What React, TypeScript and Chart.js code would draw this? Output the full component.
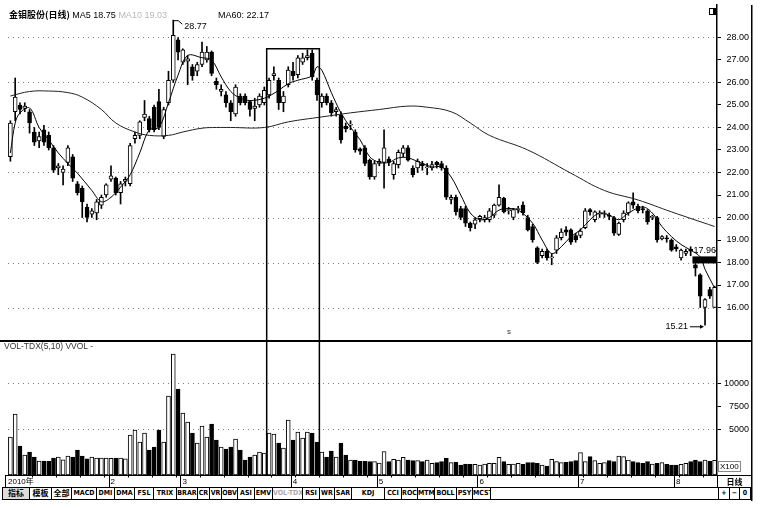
import React, { useEffect, useRef } from 'react';
import { Chart, registerables } from 'chart.js';

Chart.register(...registerables);

// ---------- data ----------
const OPEN = [
  22.7, 24.7, 25.0, 24.85, 24.7, 23.8, 23.4, 23.9, 23.65, 23.1,
  22.2, 22.0, 22.45, 22.7, 21.5, 21.3, 20.45, 20.15, 20.2, 20.55,
  21.0, 21.7, 21.75, 21.1, 21.6, 21.5, 23.5, 23.65, 24.45, 24.4,
  24.9, 25.15, 23.6, 25.1, 26.1, 27.9, 26.9, 26.95, 26.7, 26.5,
  26.8, 27.0, 27.35, 26.05, 25.6, 25.45, 25.1, 24.6, 25.4, 25.4,
  25.15, 24.85, 25.0, 25.1, 25.45, 26.3, 26.1, 25.1, 25.9, 26.5,
  26.35, 26.9, 27.1, 27.3, 26.1, 25.1, 25.4, 25.1, 24.7, 24.55,
  24.05, 24.1, 23.8, 23.05, 23.1, 22.55, 21.8, 22.4, 22.45, 22.6,
  21.9, 22.35, 22.85, 23.1, 22.2, 22.2, 22.4, 22.2, 22.2, 22.45,
  22.4, 22.2, 20.8, 20.9, 20.4, 20.4, 19.75, 19.7, 19.95, 19.9,
  19.9, 20.1, 20.55, 20.85, 20.3, 20.0, 20.35, 20.55, 20.0, 19.6,
  18.65, 18.3, 18.5, 18.2, 18.55, 19.1, 19.45, 19.45, 19.2, 19.2,
  19.55, 20.35, 19.9, 20.15, 20.15, 20.1, 20.0, 19.25, 19.9, 20.2,
  20.7, 20.5, 20.4, 20.3, 20.0, 20.0, 19.05, 19.1, 19.0, 18.7,
  18.2, 18.4, 18.6, 17.9, 17.45, 16.0, 16.8, 16.0,
];
const HIGH = [
  24.3, 26.2, 25.1, 25.1, 24.8, 24.0, 23.8, 24.1, 23.8, 23.2,
  22.4, 22.3, 23.2, 22.8, 21.6, 21.4, 20.6, 20.4, 20.8, 21.0,
  21.5, 22.3, 21.8, 21.6, 21.8, 23.3, 23.8, 24.3, 25.2, 24.5,
  25.0, 25.7, 24.9, 26.5, 28.77, 28.0, 27.5, 27.2, 26.8, 26.9,
  27.8, 27.6, 27.4, 26.2, 25.9, 25.6, 25.2, 25.9, 25.5, 25.5,
  25.2, 25.3, 25.5, 25.8, 26.2, 26.7, 26.2, 25.6, 26.7, 26.9,
  27.2, 27.3, 27.45, 27.45, 26.2, 25.5, 25.5, 25.2, 24.9, 24.7,
  24.2, 24.3, 23.9, 23.1, 23.2, 22.6, 22.5, 22.6, 23.9, 22.7,
  22.5, 23.0, 23.2, 23.2, 22.3, 22.6, 22.5, 22.4, 22.5, 22.5,
  22.5, 22.3, 21.0, 21.0, 20.5, 20.5, 19.8, 20.0, 20.1, 20.1,
  20.4, 20.6, 21.45, 20.9, 20.45, 20.4, 20.5, 20.7, 20.1, 19.7,
  18.7, 18.6, 18.6, 18.4, 19.2, 19.5, 19.6, 19.5, 19.3, 19.5,
  20.4, 20.4, 20.3, 20.3, 20.3, 20.2, 20.05, 19.8, 20.3, 20.7,
  21.1, 20.6, 20.5, 20.35, 20.1, 20.05, 19.2, 19.2, 19.05, 18.8,
  18.6, 18.6, 18.7, 17.96, 17.5, 16.4, 16.9, 16.95,
];
const LOW = [
  22.5, 24.3, 24.6, 24.7, 23.75, 23.2, 23.1, 23.2, 23.0, 22.0,
  21.9, 21.45, 22.3, 21.6, 21.0, 20.0, 19.8, 20.0, 19.9, 20.4,
  20.9, 21.6, 21.0, 20.6, 21.4, 21.4, 23.3, 23.5, 24.3, 23.8,
  23.8, 23.9, 23.5, 25.0, 26.0, 27.0, 26.8, 25.9, 26.1, 26.3,
  26.7, 26.9, 26.3, 25.7, 25.4, 24.9, 24.3, 24.5, 25.0, 25.0,
  24.5, 24.3, 24.9, 25.0, 25.3, 26.1, 24.8, 24.7, 25.8, 26.1,
  26.2, 26.8, 27.0, 26.1, 25.2, 24.9, 25.0, 24.5, 24.5, 23.3,
  23.8, 23.9, 22.9, 22.8, 22.3, 21.7, 21.7, 22.3, 21.3, 22.3,
  21.7, 22.2, 22.7, 22.5, 21.8, 22.0, 22.1, 21.9, 22.1, 22.2,
  22.1, 20.8, 20.6, 20.1, 19.9, 19.6, 19.4, 19.5, 19.8, 19.8,
  19.8, 20.0, 20.5, 20.2, 20.15, 19.9, 20.2, 20.1, 19.4, 18.9,
  17.95, 18.2, 18.1, 17.9, 18.4, 19.0, 19.2, 18.8, 18.9, 19.1,
  19.5, 20.1, 19.8, 20.0, 20.0, 19.9, 19.2, 19.2, 19.8, 20.1,
  20.4, 20.2, 20.2, 19.7, 19.9, 18.9, 19.0, 18.9, 18.5, 18.5,
  18.1, 18.3, 18.3, 17.4, 16.0, 15.21, 16.4, 16.0,
];
const CLOSE = [
  24.2, 25.35, 24.8, 24.95, 24.2, 23.35, 23.6, 23.35, 23.1, 22.1,
  22.3, 22.15, 23.1, 21.75, 21.1, 20.7, 20.0, 20.3, 20.7, 20.9,
  21.45, 21.85, 21.1, 21.5, 21.7, 23.2, 23.65, 24.25, 24.6, 23.9,
  23.9, 24.0, 24.8, 26.1, 28.1, 27.35, 27.45, 27.05, 26.3, 26.8,
  27.35, 27.35, 26.4, 25.9, 25.7, 25.1, 24.7, 25.8, 25.1, 25.1,
  24.8, 24.95, 25.4, 25.65, 26.1, 26.4, 25.1, 25.4, 26.55, 26.3,
  27.1, 27.1, 27.2, 26.25, 25.45, 25.4, 25.1, 24.65, 24.8, 23.45,
  23.95, 24.15, 23.0, 22.95, 22.4, 21.8, 22.4, 22.5, 23.1, 22.45,
  22.4, 22.9, 23.1, 22.55, 21.9, 22.5, 22.3, 22.25, 22.35, 22.35,
  22.2, 20.9, 20.9, 20.25, 20.0, 19.75, 19.55, 19.9, 20.05, 20.0,
  20.3, 20.55, 20.9, 20.25, 20.35, 20.35, 20.4, 20.2, 19.45, 19.0,
  18.0, 18.5, 18.2, 18.25, 19.1, 19.35, 19.35, 18.9, 19.0, 19.4,
  20.3, 20.25, 20.25, 20.2, 20.2, 20.05, 19.3, 19.75, 20.2, 20.65,
  20.55, 20.3, 20.35, 19.8, 20.05, 19.0, 19.15, 19.05, 18.55, 18.6,
  18.55, 18.5, 18.5, 17.75, 16.5, 16.35, 16.5, 16.9,
];
const VOLUME = [
  4130, 6630, 3150, 2170, 2500, 1960, 1520, 1520, 1500, 1850,
  1960, 1650, 2070, 1960, 2720, 2070, 1750, 1960, 1850, 1850,
  1850, 1800, 1850, 1850, 1750, 4350, 4890, 3590, 4570, 2720,
  3040, 4890, 3590, 8590, 13150, 9350, 6740, 5760, 4570, 3480,
  5330, 4130, 5540, 3800, 3040, 2830, 3040, 3910, 2720, 1630,
  1960, 2170, 2500, 2390, 4570, 4460, 3480, 2930, 5980, 3800,
  4670, 4020, 4670, 4570, 3590, 2500, 1960, 2610, 1960, 3480,
  2170, 1630, 1630, 1500, 1500, 1450, 1450, 1300, 2540, 1450,
  1700, 1630, 1920, 1630, 1560, 1560, 1450, 1630, 1270, 1340,
  1450, 1810, 1340, 1380, 1090, 1200, 1160, 1160, 1090, 1200,
  1270, 1270, 1920, 1450, 1160, 1200, 1270, 1160, 1340, 1340,
  1270, 1090, 980, 1700, 1450, 1340, 1380, 1450, 1560, 2430,
  1450, 1990, 1560, 1270, 1340, 1560, 1450, 2070, 1990, 1630,
  1450, 1340, 1270, 1450, 1200, 1270, 1340, 1160, 1090, 1090,
  1160, 1270, 1450, 1630, 1450, 1630, 1500, 1600,
];
// moving-average lines as [day index, value]
const MA5_POINTS: [number, number][] = [
  [0, 22.87], [1, 24.2], [2, 24.65], [4, 24.87], [6, 24.0], [8, 23.45], [10, 22.87],
  [12, 22.4], [14, 21.97], [17, 21.2], [19, 20.7], [21, 20.9], [23, 21.35], [25, 21.9],
  [27, 22.87], [29, 23.9], [31, 24.0], [33, 25.1], [35, 26.33], [37, 27.2], [40, 27.1],
  [42, 27.0], [44, 26.25], [46, 25.6], [48, 25.3], [50, 25.2], [53, 25.3], [56, 25.65],
  [58, 25.95], [60, 26.1], [63, 26.3], [64, 26.7], [65, 26.55], [67, 25.55], [69, 24.65],
  [71, 24.0], [73, 23.45], [75, 22.7], [77, 22.45], [79, 22.45], [81, 22.65], [83, 22.65],
  [86, 22.4], [88, 22.25], [90, 22.25], [92, 21.8], [94, 21.0], [96, 20.2], [98, 19.9],
  [100, 20.0], [102, 20.33], [104, 20.4], [106, 20.33], [109, 19.75], [111, 19.0],
  [113, 18.4], [115, 18.7], [117, 19.15], [119, 19.45], [121, 19.9], [123, 20.2],
  [125, 20.1], [127, 19.9], [129, 20.2], [132, 20.47], [134, 20.2], [136, 19.6],
  [138, 19.15], [140, 18.8], [142, 18.55], [144, 18.25], [145, 17.7], [147, 16.87],
];
const MA60_POINTS: [number, number][] = [
  [0, 25.4], [4, 25.6], [8, 25.62], [12, 25.55], [15, 25.35], [19, 24.8], [22, 24.2],
  [26, 23.8], [29, 23.65], [33, 23.65], [36, 23.8], [40, 23.97], [43, 24.0], [46, 24.0],
  [53, 24.0], [58, 24.25], [65, 24.47], [71, 24.65], [77, 24.8], [83, 24.95], [87, 24.9],
  [92, 24.7], [96, 24.2], [100, 23.65], [108, 23.0], [117, 21.97], [124, 21.2],
  [131, 20.78], [138, 20.25], [147, 19.6],
];
const MONTH_TICKS: [number, string][] = [
  [0, '2010年'], [21, '2'], [36, '3'], [59, '4'], [77, '5'], [98, '6'], [119, '7'], [139, '8'],
];
const PRICE_TICKS = [16, 17, 18, 19, 20, 21, 22, 23, 24, 25, 26, 27, 28];
const PRICE_GRID = [16, 18, 20, 22, 24, 26, 28];
const VOLUME_TICKS = [5000, 7500, 10000];
const VOLUME_GRID = [5000, 10000];
const PEAK_INDEX = 34;
const PEAK_VALUE = 28.77;
const LOW_INDEX = 145;
const LOW_VALUE = 15.21;
const MARK_INDEX = 143;
const MARK_VALUE = 17.96;
const BOX_FIRST = 54;
const BOX_LAST = 64;
const BOX_TOP = 27.5;
const TOOLBAR = [
  '指标', '模板', '全部', 'MACD', 'DMI', 'DMA', 'FSL', 'TRIX', 'BRAR', 'CR', 'VR', 'OBV', 'ASI',
  'EMV', 'VOL-TDX', 'RSI', 'WR', 'SAR', 'KDJ', 'CCI', 'ROC', 'MTM', 'BOLL', 'PSY', 'MCST', '',
  '+', '−', '0',
];

// ---------- layout ----------
const TB_EDGES = [
  2, 29, 51, 71, 96, 114, 134, 153, 176, 197, 209, 221, 237, 254, 272, 302, 319, 334, 351,
  384, 401, 417, 434, 456, 472, 490, 718, 729, 739, 750,
];
const FONT = '"Liberation Sans", Arial, "Noto Sans CJK SC", sans-serif';
const PRICE_MIN = 14.556;
const PRICE_MAX = 29.444;
const VOL_MAX = 14680;

const LABELS = OPEN.map((_, i) => String(i));
const isUp = (i: number) => CLOSE[i] >= OPEN[i];

function sparse(points: [number, number][]) {
  const arr: (number | null)[] = LABELS.map(() => null);
  points.forEach(([i, v]) => {
    arr[i] = v;
  });
  return arr;
}

function boxEdges(chart: any) {
  const xs = chart.scales.x;
  const step = xs.getPixelForValue(1) - xs.getPixelForValue(0);
  return {
    step,
    left: xs.getPixelForValue(BOX_FIRST) - step / 2,
    right: xs.getPixelForValue(BOX_LAST) + step / 2,
  };
}

function dottedGrid(chart: any, scaleId: string, values: number[]) {
  const { ctx, chartArea } = chart;
  const s = chart.scales[scaleId];
  ctx.save();
  ctx.strokeStyle = '#7a7a7a';
  ctx.lineWidth = 1;
  ctx.setLineDash([1, 4]);
  values.forEach((v) => {
    const y = Math.round(s.getPixelForValue(v)) + 0.5;
    ctx.beginPath();
    ctx.moveTo(chartArea.left, y);
    ctx.lineTo(chartArea.right, y);
    ctx.stroke();
  });
  ctx.restore();
}

const pricePlugin = {
  id: 'priceOverlay',
  beforeDatasetsDraw(chart: any) {
    dottedGrid(chart, 'y', PRICE_GRID);
  },
  afterDraw(chart: any) {
    const { ctx, chartArea } = chart;
    const xs = chart.scales.x;
    const ys = chart.scales.y;
    const { left, right } = boxEdges(chart);
    ctx.save();
    ctx.strokeStyle = '#000';
    ctx.fillStyle = '#000';
    // rectangle
    const top = ys.getPixelForValue(BOX_TOP);
    ctx.lineWidth = 1.5;
    ctx.beginPath();
    ctx.moveTo(left, chartArea.bottom);
    ctx.lineTo(left, top);
    ctx.lineTo(right, top);
    ctx.lineTo(right, chartArea.bottom);
    ctx.stroke();
    // peak label
    ctx.lineWidth = 1;
    ctx.font = '9px ' + FONT;
    ctx.textBaseline = 'middle';
    const px = xs.getPixelForValue(PEAK_INDEX);
    const py = ys.getPixelForValue(PEAK_VALUE);
    ctx.beginPath();
    ctx.moveTo(px, py + 0.5);
    ctx.lineTo(px + 5, py + 0.5);
    ctx.lineTo(px + 9, py + 4);
    ctx.stroke();
    ctx.textAlign = 'left';
    ctx.fillText(PEAK_VALUE.toFixed(2), px + 11, py + 6);
    // 17.96 marker
    const mx = xs.getPixelForValue(MARK_INDEX);
    const my = ys.getPixelForValue(MARK_VALUE);
    ctx.fillRect(mx - 3, my - 7, chartArea.right - (mx - 3), 7);
    ctx.fillText(MARK_VALUE.toFixed(2), mx - 2, my - 13);
    ctx.beginPath();
    ctx.moveTo(mx + 19, my - 12.5);
    ctx.lineTo(mx + 21, my - 12.5);
    ctx.stroke();
    // 15.21 arrow
    const lx = xs.getPixelForValue(LOW_INDEX);
    const ly = ys.getPixelForValue(LOW_VALUE);
    ctx.beginPath();
    ctx.moveTo(lx - 15, ly + 1.5);
    ctx.lineTo(lx - 3, ly + 1.5);
    ctx.stroke();
    ctx.beginPath();
    ctx.moveTo(lx - 1, ly + 1.5);
    ctx.lineTo(lx - 5, ly - 0.5);
    ctx.lineTo(lx - 5, ly + 3.5);
    ctx.closePath();
    ctx.fill();
    ctx.textAlign = 'right';
    ctx.fillText(LOW_VALUE.toFixed(2), lx - 17, ly + 1.5);
    // right frame + icon
    ctx.fillRect(751, chartArea.top, 1.5, chart.height - chartArea.top);
    ctx.lineWidth = 1;
    ctx.strokeRect(709.5, 8.5, 6, 6);
    ctx.fillRect(713, 8, 2.5, 7);
    ctx.restore();
  },
};

const volumePlugin = {
  id: 'volumeOverlay',
  beforeDatasetsDraw(chart: any) {
    dottedGrid(chart, 'y', VOLUME_GRID);
  },
  afterDraw(chart: any) {
    const { ctx, chartArea } = chart;
    const xs = chart.scales.x;
    const { left, right, step } = boxEdges(chart);
    ctx.save();
    ctx.fillStyle = '#000';
    ctx.strokeStyle = '#000';
    // panel divider
    ctx.fillRect(0, 0, 752, 2);
    // rectangle legs
    ctx.lineWidth = 1.5;
    ctx.beginPath();
    ctx.moveTo(left, 0);
    ctx.lineTo(left, chartArea.bottom);
    ctx.moveTo(right, 0);
    ctx.lineTo(right, chartArea.bottom);
    ctx.stroke();
    // right frame
    ctx.fillRect(751, 0, 1.5, 161);
    // date strip
    const sTop = Math.round(chartArea.bottom) + 0.5;
    const sH = 12;
    ctx.lineWidth = 1;
    ctx.strokeRect(5.5, sTop, 746, sH);
    ctx.beginPath();
    ctx.moveTo(Math.round(chartArea.right) + 0.5, sTop);
    ctx.lineTo(Math.round(chartArea.right) + 0.5, sTop + sH);
    ctx.stroke();
    ctx.font = '8px ' + FONT;
    ctx.textBaseline = 'middle';
    ctx.textAlign = 'left';
    MONTH_TICKS.forEach(([i, label], k) => {
      const bx = xs.getPixelForValue(i) - step / 2;
      if (k > 0) {
        const lxp = Math.round(bx) + 0.5;
        ctx.beginPath();
        ctx.moveTo(lxp, sTop);
        ctx.lineTo(lxp, sTop + sH);
        ctx.stroke();
      }
      ctx.fillText(label, k === 0 ? 8 : bx + 2, sTop + sH / 2 + 0.5);
    });
    for (let i = 5; i < LABELS.length; i += 5) {
      const tx = Math.round(xs.getPixelForValue(i) - step / 2) + 0.5;
      ctx.beginPath();
      ctx.moveTo(tx, sTop);
      ctx.lineTo(tx, sTop + 2);
      ctx.stroke();
    }
    ctx.textAlign = 'center';
    ctx.font = 'bold 8px "Noto Sans CJK SC", sans-serif';
    ctx.fillText('日线', (chartArea.right + 752) / 2, sTop + sH / 2 + 0.5);
    ctx.restore();
  },
};

function yAxis(min: number, max: number, ticks: number[], fmt: (v: number) => string) {
  return {
    position: 'right',
    min,
    max,
    afterBuildTicks: (s: any) => {
      s.ticks = ticks.map((v) => ({ value: v }));
    },
    afterFit: (s: any) => {
      s.width = 32;
      s.paddingTop = 0;
      s.paddingBottom = 0;
    },
    ticks: {
      callback: (v: any) => fmt(Number(v)),
      font: { size: 9, family: FONT },
      color: '#000',
      padding: 1,
      crossAlign: 'far',
    },
    grid: { drawOnChartArea: false, color: '#000', tickColor: '#000', tickLength: 4 },
    border: { display: true, color: '#000', width: 1.5 },
  };
}

export default function App() {
  const priceRef = useRef<HTMLCanvasElement>(null);
  const volRef = useRef<HTMLCanvasElement>(null);

  useEffect(() => {
    const bodyColors = LABELS.map((_, i) => (isUp(i) ? '#ffffff' : '#000000'));
    const priceChart = new Chart(priceRef.current as HTMLCanvasElement, {
      type: 'bar',
      data: {
        labels: LABELS,
        datasets: [
          {
            type: 'line',
            label: 'MA5',
            data: sparse(MA5_POINTS),
            borderColor: '#000',
            borderWidth: 1,
            pointRadius: 0,
            spanGaps: true,
            tension: 0.35,
            order: 0,
          } as any,
          {
            type: 'line',
            label: 'MA60',
            data: sparse(MA60_POINTS),
            borderColor: '#222',
            borderWidth: 1,
            pointRadius: 0,
            spanGaps: true,
            tension: 0.4,
            order: 0,
          } as any,
          {
            type: 'bar',
            label: 'body',
            data: LABELS.map((_, i) => [Math.min(OPEN[i], CLOSE[i]), Math.max(OPEN[i], CLOSE[i])]),
            backgroundColor: bodyColors,
            borderColor: '#000',
            borderWidth: 1,
            borderSkipped: false,
            barThickness: 4,
            grouped: false,
            order: 1,
          } as any,
          {
            type: 'bar',
            label: 'wick',
            data: LABELS.map((_, i) => [LOW[i], HIGH[i]]),
            backgroundColor: '#000',
            borderWidth: 0,
            barThickness: 1,
            grouped: false,
            order: 2,
          } as any,
        ],
      },
      options: {
        responsive: false,
        animation: false,
        devicePixelRatio: 1,
        events: [],
        layout: { padding: { top: 5, left: 8, right: 12, bottom: 0 } },
        plugins: { legend: { display: false }, tooltip: { enabled: false } },
        scales: {
          x: { display: false, offset: true },
          y: yAxis(PRICE_MIN, PRICE_MAX, PRICE_TICKS, (v) => v.toFixed(2)) as any,
        },
      },
      plugins: [pricePlugin],
    });

    const volChart = new Chart(volRef.current as HTMLCanvasElement, {
      type: 'bar',
      data: {
        labels: LABELS,
        datasets: [
          {
            label: 'VOL',
            data: VOLUME,
            backgroundColor: bodyColors,
            borderColor: '#000',
            borderWidth: 1,
            borderSkipped: false,
            barThickness: 4,
          } as any,
        ],
      },
      options: {
        responsive: false,
        animation: false,
        devicePixelRatio: 1,
        events: [],
        layout: { padding: { top: 0, left: 8, right: 12, bottom: 33 } },
        plugins: { legend: { display: false }, tooltip: { enabled: false } },
        scales: {
          x: { display: false, offset: true },
          y: yAxis(0, VOL_MAX, VOLUME_TICKS, (v) => String(v)) as any,
        },
      },
      plugins: [volumePlugin],
    });

    return () => {
      priceChart.destroy();
      volChart.destroy();
    };
  }, []);

  const small: React.CSSProperties = {
    position: 'absolute',
    whiteSpace: 'nowrap',
    color: '#000',
    fontFamily: FONT,
  };

  return (
    <div
      style={{
        position: 'absolute',
        left: 0,
        top: 0,
        width: 761,
        height: 508,
        background: '#fff',
        overflow: 'hidden',
      }}
    >
      <canvas ref={priceRef} width={761} height={340} style={{ position: 'absolute', left: 0, top: 0 }} />
      <canvas ref={volRef} width={761} height={168} style={{ position: 'absolute', left: 0, top: 340 }} />

      <div style={{ ...small, left: 9, top: 9, fontSize: 9, lineHeight: '12px' }}>
        <span style={{ fontFamily: '"Noto Sans CJK SC", sans-serif', fontWeight: 700, fontSize: 9 }}>
          金钼股份(日线)
        </span>{' '}
        <span>MA5 18.75</span> <span style={{ color: '#b8b8b8' }}>MA10 19.03</span>
      </div>
      <div style={{ ...small, left: 218, top: 9, fontSize: 9, lineHeight: '12px' }}>MA60: 22.17</div>
      <div style={{ ...small, left: 4, top: 341, fontSize: 8.5, lineHeight: '10px', color: '#333' }}>
        VOL-TDX(5,10) VVOL -
      </div>
      <div style={{ ...small, left: 507, top: 327, fontSize: 8, lineHeight: '9px', color: '#333' }}>s</div>
      <div
        style={{
          ...small,
          left: 718,
          top: 461,
          fontSize: 8,
          lineHeight: '9px',
          border: '1px solid #888',
          padding: '0 1px',
        }}
      >
        X100
      </div>

      {TOOLBAR.map((label, i) => (
        <div
          key={i}
          style={{
            position: 'absolute',
            left: TB_EDGES[i],
            top: 487,
            width: TB_EDGES[i + 1] - TB_EDGES[i] + 1,
            height: 13,
            boxSizing: 'border-box',
            border: '1px solid #000',
            fontFamily: '"Liberation Sans Narrow", "DejaVu Sans Condensed", "Noto Sans CJK SC", sans-serif',
            fontWeight: 700,
            fontSize: /[\u4e00-\u9fff]/.test(label) ? 8 : 7,
            lineHeight: '11px',
            textAlign: 'center',
            color: label === 'VOL-TDX' ? '#aaa' : '#000',
            background: i === 0 ? '#ddd' : '#fff',
            overflow: 'hidden',
            whiteSpace: 'nowrap',
          }}
        >
          {label}
        </div>
      ))}
    </div>
  );
}
